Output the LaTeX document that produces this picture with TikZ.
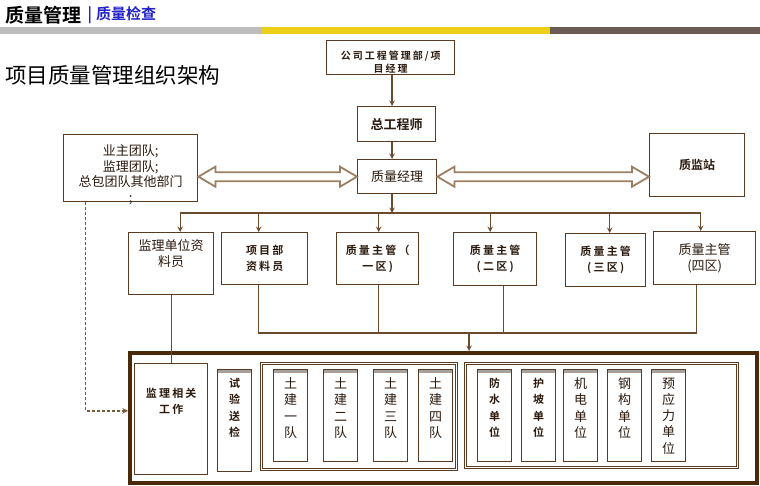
\documentclass[tikz,border=0pt]{standalone}
\usepackage{fontspec}
\setmainfont{Noto Sans CJK SC}[BoldFont={Noto Sans CJK SC Bold}]
\newfontfamily\spaced{Noto Sans CJK SC}[LetterSpace=20,BoldFont={Noto Sans CJK SC Bold}]
\usetikzlibrary{arrows, calc, positioning}
\definecolor{ink}{HTML}{2B1A0E}
\definecolor{linebrown}{HTML}{6B4A2E}
\definecolor{boxbrown}{HTML}{5A3A20}
\definecolor{hollowbrown}{HTML}{9C7F63}
\definecolor{bigbrown}{HTML}{4B2A0C}
\definecolor{dashbrown}{HTML}{7A5A3A}
\definecolor{topgray}{HTML}{A8A09A}
\definecolor{bargray}{HTML}{BDBDBD}
\definecolor{baryellow}{HTML}{ECCF16}
\definecolor{bardark}{HTML}{6B5B55}
\definecolor{hblue}{HTML}{2222C8}
\tikzstyle{arrow} = [line width=1.4pt, draw=linebrown, ->, >=stealth]
\tikzstyle{wire} = [line width=1.4pt, draw=linebrown]
\tikzstyle{dashline} = [draw=dashbrown, line width=1.5pt, dash pattern=on 3pt off 2pt, ->, >=stealth]
\tikzstyle{box} = [rectangle, draw=boxbrown, line width=1.4pt, fill=white, text centered, align=center, inner sep=1pt]
\tikzstyle{hollow} = [draw=hollowbrown, line width=1.8pt, fill=white, line join=miter]
\tikzstyle{column} = [box, minimum width=34pt, minimum height=92pt, anchor=north west,
    path picture={\fill[topgray] (path picture bounding box.north west) rectangle ([yshift=-3pt]path picture bounding box.north east);}]
\newcommand{\hollowarrow}[2]{%
  \draw[hollow] (#1) -- ($(#1)+(17,-10)$) -- ($(#1)+(17,-4.5)$) -- ($(#2)+(-17,-4.5)$) -- ($(#2)+(-17,-10)$)
    -- (#2) -- ($(#2)+(-17,10)$) -- ($(#2)+(-17,4.5)$) -- ($(#1)+(17,4.5)$) -- ($(#1)+(17,10)$) -- cycle;}
\begin{document}
\begin{tikzpicture}[x=1pt, y=-1pt,
        node distance=10pt and 10pt,
        every node/.style={text=ink},
        wh/.style 2 args={minimum width=#1, minimum height=#2, anchor=north west},
        toptext/.style={anchor=north, align=center, inner sep=0pt, yshift=#1},
        big text/.style={font=\fontsize{13}{15.5}\selectfont},
        small text/.style={font=\spaced\bfseries\fontsize{11}{16}\selectfont},
        col text/.style={font=\fontsize{13}{16.3}\selectfont},
        col small/.style={font=\bfseries\fontsize{11}{16.3}\selectfont},
        double group/.style={draw=boxbrown, line width=0.8pt, double=white, double distance=1.6pt}]

    \useasboundingbox (0,0) rectangle (760,485);
    \fill[bargray] (0,27) rectangle (262,34);
    \fill[baryellow] (262,27) rectangle (550,34);
    \fill[bardark] (550,27) rectangle (760,34);
    \node[anchor=west, inner sep=0pt, text=black, font=\bfseries\fontsize{19}{19}\selectfont] (head) at (5,15) {质量管理};
    \node[right=6pt of head, inner sep=0pt, text=hblue, font=\bfseries\fontsize{15}{15}\selectfont] (subhead) {|\hspace{4pt}质量检查};
    \node[anchor=west, inner sep=0pt, text=black, font=\fontsize{21.5}{21.5}\selectfont] (title) at (5,75) {项目质量管理组织架构};

    \node[box, wh={128}{34}, label={[toptext=-10.5pt, font=\spaced\bfseries\fontsize{10}{13}\selectfont]north:公司工程管理部/项\\目经理}] (pm) at (326,40) {};
    \node[box, wh={78}{35}, font=\bfseries\fontsize{13}{13}\selectfont] (ce) at (357,106) {总工程师};
    \node[box, wh={79}{34}, font=\fontsize{13}{13}\selectfont] (qm) at (357,159) {质量经理};
    \node[box, wh={134}{67}, label={[toptext=-10.5pt, big text]north:业主团队;\\监理团队;\\总包团队其他部门\\;}] (own) at (63,134) {};
    \node[box, wh={95}{63}, font=\bfseries\fontsize{12}{12}\selectfont] (qs) at (649,133) {质监站};

    \node[box, wh={85}{62}, label={[toptext=-7.5pt, big text]north:监理单位资\\料员}] (jl) at (128,232) {};
    \node[box, wh={86}{52}, small text] (xm) at (221,232) {项目部\\资料员};
    \node[box, wh={82}{52}, small text] (z1) at (336,232) {质量主管（\\一区)};
    \node[box, wh={83}{53}, small text] (z2) at (453,232) {质量主管\\(二区)};
    \node[box, wh={80}{53}, small text] (z3) at (565,233) {质量主管\\(三区)};
    \node[box, wh={102}{53}, big text] (z4) at (653,231) {质量主管\\(四区)};

    \node[box, wh={627}{130}, draw=bigbrown, line width=3.5pt, fill=none] (big) at (128,351) {};
    \node[box, wh={73}{111}, label={[toptext=-25pt, small text]north:监理相关\\工作}] (jlw) at (134,363) {};
    \node[column, minimum height=102pt, label={[toptext=-9pt, col small]north:试\\验\\送\\检}] (sy) at (217,369) {};
    \node[box, wh={195}{106}, double group] (g1) at (261,363) {};
    \node[column, label={[toptext=-8.5pt, col text]north:土\\建\\一\\队}] (t1) at (273,369) {};
    \node[column, right=14.6pt of t1, label={[toptext=-8.5pt, col text]north:土\\建\\二\\队}] (t2) {};
    \node[column, right=14.6pt of t2, label={[toptext=-8.5pt, col text]north:土\\建\\三\\队}] (t3) {};
    \node[column, right=9.6pt of t3, label={[toptext=-8.5pt, col text]north:土\\建\\四\\队}] (t4) {};
    \node[box, wh={272}{104}, double group] (g2) at (465,363) {};
    \node[column, label={[toptext=-9pt, col small]north:防\\水\\单\\位}] (u1) at (477,369) {};
    \node[column, right=8.6pt of u1, label={[toptext=-9pt, col small]north:护\\坡\\单\\位}] (u2) {};
    \node[column, right=6.6pt of u2, label={[toptext=-8.5pt, col text]north:机\\电\\单\\位}] (u3) {};
    \node[column, right=8.6pt of u3, label={[toptext=-8.5pt, col text]north:钢\\构\\单\\位}] (u4) {};
    \node[column, right=8.6pt of u4, label={[toptext=-8.5pt, col text]north:预\\应\\力\\单\\位}] (u5) {};

    \coordinate (spine) at (392,0);
    \coordinate (bus) at (0,213);
    \coordinate (bus2) at (0,333);
    \coordinate (drop) at (469,0);
    \coordinate (la) at (own.east |- qm.west);
    \coordinate (ra) at (qs.west |- qm.east);

    \draw[arrow] (pm.south -| spine) -- (ce.north -| spine);
    \draw[arrow] (ce.south -| spine) -- (qm.north -| spine);
    \draw[arrow] (qm.south -| spine) -- (spine |- bus);
    \hollowarrow{la}{qm.west}
    \hollowarrow{qm.east}{ra}

    \draw[wire] ([xshift=9pt]jl.north |- bus) -- ([xshift=-4pt]z4.north |- bus);
    \draw[arrow] ([xshift=9pt]jl.north |- bus) -- ([xshift=9pt]jl.north);
    \draw[arrow] ([xshift=-6pt]xm.north |- bus) -- ([xshift=-6pt]xm.north);
    \draw[arrow] ([xshift=1pt]z1.north |- bus) -- ([xshift=1pt]z1.north);
    \draw[arrow] ([xshift=-5pt]z2.north |- bus) -- ([xshift=-5pt]z2.north);
    \draw[arrow] ([xshift=4pt]z3.north |- bus) -- ([xshift=4pt]z3.north);
    \draw[arrow] ([xshift=-4pt]z4.north |- bus) -- ([xshift=-4pt]z4.north);

    \draw[wire] ([xshift=-6pt]xm.south) |- ([xshift=-8pt]z4.south |- bus2) -- ([xshift=-8pt]z4.south);
    \draw[wire] ([xshift=1pt]z1.south) -- ([xshift=1pt]z1.south |- bus2);
    \draw[wire] ([xshift=8.5pt]z2.south) -- ([xshift=8.5pt]z2.south |- bus2);
    \draw[arrow] (drop |- bus2) -- (drop |- big.north);
    \draw[wire] (jl.south) -- (jlw.north);
    \draw[dashline] ([xshift=-45pt]own.south) |- ([yshift=7pt]big.west);
\end{tikzpicture}
\end{document}
